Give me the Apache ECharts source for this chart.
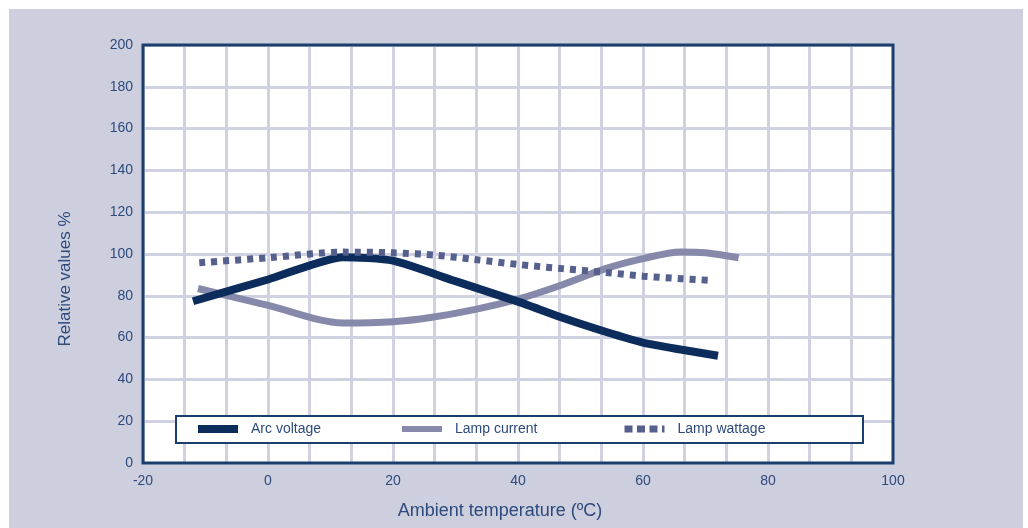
<!DOCTYPE html>
<html>
<head>
<meta charset="utf-8">
<script src="https://cdn.jsdelivr.net/npm/echarts@6/dist/echarts.min.js"></script>
<style>html,body{margin:0;padding:0;background:#fff;}#c{width:1028px;height:528px;}</style>
</head>
<body>
<div id="c"></div>
<script>
// ---- data ----
const seriesNames = ['Arc voltage', 'Lamp current', 'Lamp wattage'];
const arcTemp = [-12, 0, 12, 20, 30, 40, 47, 54, 60, 66, 72];
const arcVal  = [77.4, 87.8, 98.5, 96.8, 87, 77.2, 69.6, 62.8, 57.6, 54.3, 51.3];
const curTemp = [-11.2, 0, 12, 20, 26, 33, 40, 47, 54, 60, 66, 70, 75.3];
const curVal  = [83.5, 75.4, 67, 67.6, 69.6, 73.4, 78.4, 85.2, 93, 97.8, 101, 100.6, 98.2];
const watTemp = [-11, 0, 12, 20, 27, 33, 40, 47, 54, 60, 66, 71.3];
const watVal  = [95.8, 98.2, 100.9, 100.6, 99.4, 97.4, 95, 93, 91.2, 89.4, 88.2, 87.3];
const xTicks = [-20, 0, 20, 40, 60, 80, 100];
const yTicks = [0, 20, 40, 60, 80, 100, 120, 140, 160, 180, 200];
const xTitle = 'Ambient temperature (ºC)';
const yTitle = 'Relative values %';

const pair = (xs, ys) => xs.map((x, i) => [x, ys[i]]);
const FONT = '"Liberation Sans", Arial, sans-serif';
const TXT = '#2c4a7c';
const BORDER = '#1b3f6c';
const GRIDC = '#d0d1e1';
const colors = ['#0c2d5c', '#8689a9', '#56608c'];

const chart = echarts.init(document.getElementById('c'), null, {renderer: 'canvas'});

function legendAt(name, left, color, width, type) {
  return {
    data: [name], left: left, top: 422, orient: 'horizontal', padding: 0,
    itemWidth: 40, itemHeight: 8,
    selectedMode: false, z: 10,
    itemStyle: {opacity: 0},
    lineStyle: {width: width, type: type, color: color, cap: 'butt', opacity: 1},
    textStyle: {fontFamily: FONT, fontSize: 14, color: TXT, padding: [0, 0, 0, 8]}
  };
}

chart.setOption({
  animation: false,
  backgroundColor: '#ffffff',
  textStyle: {fontFamily: FONT},
  graphic: [
    {type: 'rect', z: -100, silent: true, shape: {x: 9, y: 9, width: 1014, height: 519}, style: {fill: '#cdcfdf'}},
    {type: 'rect', z: 20, silent: true, shape: {x: 143, y: 45, width: 750, height: 418}, style: {fill: 'none', stroke: BORDER, lineWidth: 3}},
    {type: 'rect', z: 5, silent: true, shape: {x: 176, y: 416, width: 687, height: 27}, style: {fill: '#ffffff', stroke: BORDER, lineWidth: 2}},
    {type: 'text', z: 5, x: 500, y: 511, style: {text: xTitle, font: '18px ' + FONT, fill: TXT, align: 'center', verticalAlign: 'middle'}},
    {type: 'text', z: 5, x: 65, y: 279, rotation: Math.PI / 2, style: {text: yTitle, font: '17px ' + FONT, fill: TXT, align: 'center', verticalAlign: 'middle'}}
  ],
  legend: [
    legendAt(seriesNames[0], 194, colors[0], 8, 'solid'),
    legendAt(seriesNames[1], 399, colors[1], 6, 'solid'),
    legendAt(seriesNames[2], 621, colors[2], 7, [8, 4.5])
  ],
  grid: {left: 143, right: 135, top: 45, bottom: 65, show: true, backgroundColor: '#ffffff', borderWidth: 0, z: 0},
  xAxis: {
    type: 'value', min: xTicks[0], max: xTicks[xTicks.length - 1], interval: 20,
    axisLine: {show: false}, axisTick: {show: false},
    axisLabel: {fontFamily: FONT, fontSize: 14, color: TXT, margin: 11},
    splitLine: {show: true, lineStyle: {color: GRIDC, width: 3}},
    minorTick: {show: false, splitNumber: 3},
    minorSplitLine: {show: true, lineStyle: {color: GRIDC, width: 3}}
  },
  yAxis: {
    type: 'value', min: yTicks[0], max: yTicks[yTicks.length - 1], interval: 20,
    axisLine: {show: false}, axisTick: {show: false},
    axisLabel: {fontFamily: FONT, fontSize: 14, color: TXT, margin: 10},
    splitLine: {show: true, lineStyle: {color: GRIDC, width: 3}}
  },
  series: [
    {name: seriesNames[0], type: 'line', data: pair(arcTemp, arcVal), smooth: 0.2, symbol: 'none', z: 4,
     lineStyle: {color: colors[0], width: 8, cap: 'butt'}, itemStyle: {color: colors[0]}},
    {name: seriesNames[1], type: 'line', data: pair(curTemp, curVal), smooth: 0.3, symbol: 'none', z: 3,
     lineStyle: {color: colors[1], width: 7, cap: 'butt'}, itemStyle: {color: colors[1]}},
    {name: seriesNames[2], type: 'line', data: pair(watTemp, watVal), smooth: 0.3, symbol: 'none', z: 5,
     lineStyle: {color: colors[2], width: 7, type: [6, 6], cap: 'butt'}, itemStyle: {color: colors[2]}}
  ]
});
</script>
</body>
</html>
